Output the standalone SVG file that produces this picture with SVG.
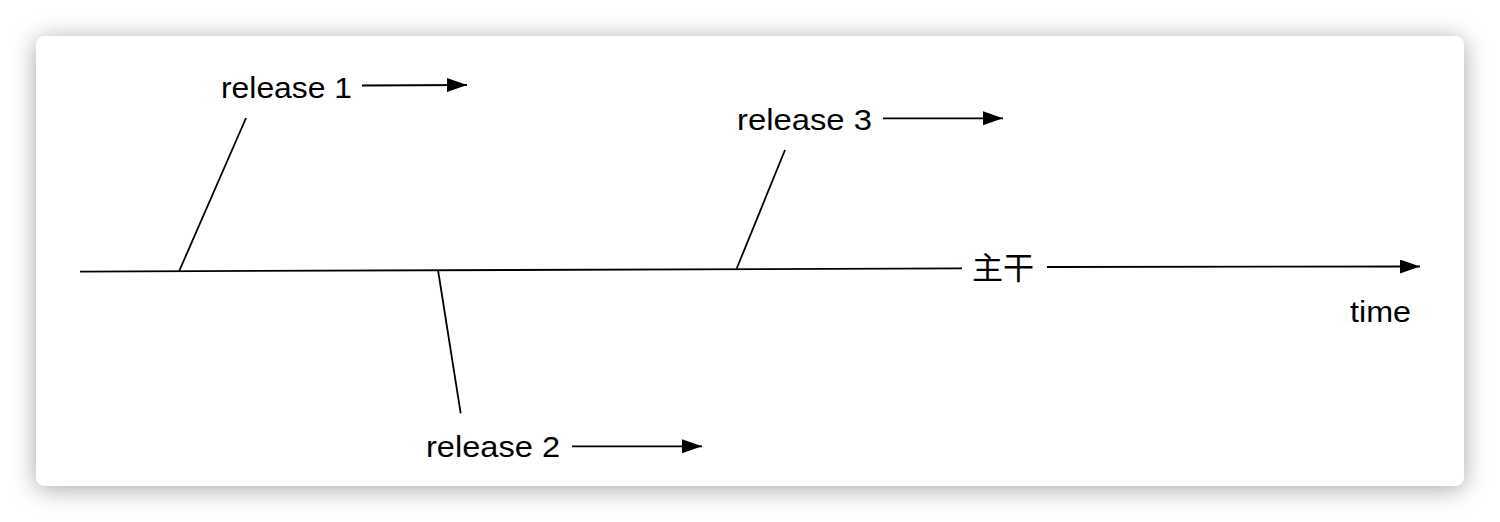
<svg xmlns="http://www.w3.org/2000/svg" width="1500" height="522" viewBox="0 0 1500 522">
  <style>
    .ln { stroke: #000; stroke-width: 1.8; fill: none; }
    .lbl { font-family: "Liberation Sans", Arial, "Noto Sans CJK SC", sans-serif; font-size: 30px; fill: #000; }
    .cjk { font-family: "Noto Sans CJK SC", "Liberation Sans", sans-serif; font-size: 31px; fill: #000; }
  </style>
  <defs>
    <filter id="shadow" x="-5%" y="-15%" width="110%" height="130%">
      <feDropShadow dx="0" dy="3" stdDeviation="12" flood-color="#000" flood-opacity="0.35"/>
    </filter>
    <marker id="arr" markerUnits="userSpaceOnUse" markerWidth="22" markerHeight="16" refX="20" refY="7" orient="auto">
      <path d="M0,0 L20,7 L0,14 Z" fill="#000"/>
    </marker>
  </defs>
  <rect width="1500" height="522" fill="#fff"/>
  <rect x="36" y="36" width="1428" height="450" rx="9" fill="#fff" filter="url(#shadow)"/>

  <g id="connectors">
    <path class="ln" d="M80,271.6 L962,268.3"/>
    <path class="ln" d="M1047,267 L1420,266.5" marker-end="url(#arr)"/>
    <path class="ln" d="M246,118 L179,271.5"/>
    <path class="ln" d="M785,150 L736.7,268.5"/>
    <path class="ln" d="M438,270 L460.7,413.3"/>
    <path class="ln" d="M362,85.5 L467,85" marker-end="url(#arr)"/>
    <path class="ln" d="M883,118.3 L1003,118.3" marker-end="url(#arr)"/>
    <path class="ln" d="M572,446.3 L702,446.3" marker-end="url(#arr)"/>
  </g>

  <g id="release1">
    <text class="lbl" x="221" y="98" textLength="131" lengthAdjust="spacingAndGlyphs">release 1</text>
  </g>
  <g id="release2">
    <text class="lbl" x="426" y="457" textLength="134" lengthAdjust="spacingAndGlyphs">release 2</text>
  </g>
  <g id="release3">
    <text class="lbl" x="737" y="130" textLength="135" lengthAdjust="spacingAndGlyphs">release 3</text>
  </g>
  <g id="trunk">
    <text class="cjk" x="972" y="279" textLength="62" lengthAdjust="spacingAndGlyphs">主干</text>
  </g>
  <g id="time">
    <text class="lbl" x="1350" y="322" textLength="61" lengthAdjust="spacingAndGlyphs">time</text>
  </g>
</svg>
